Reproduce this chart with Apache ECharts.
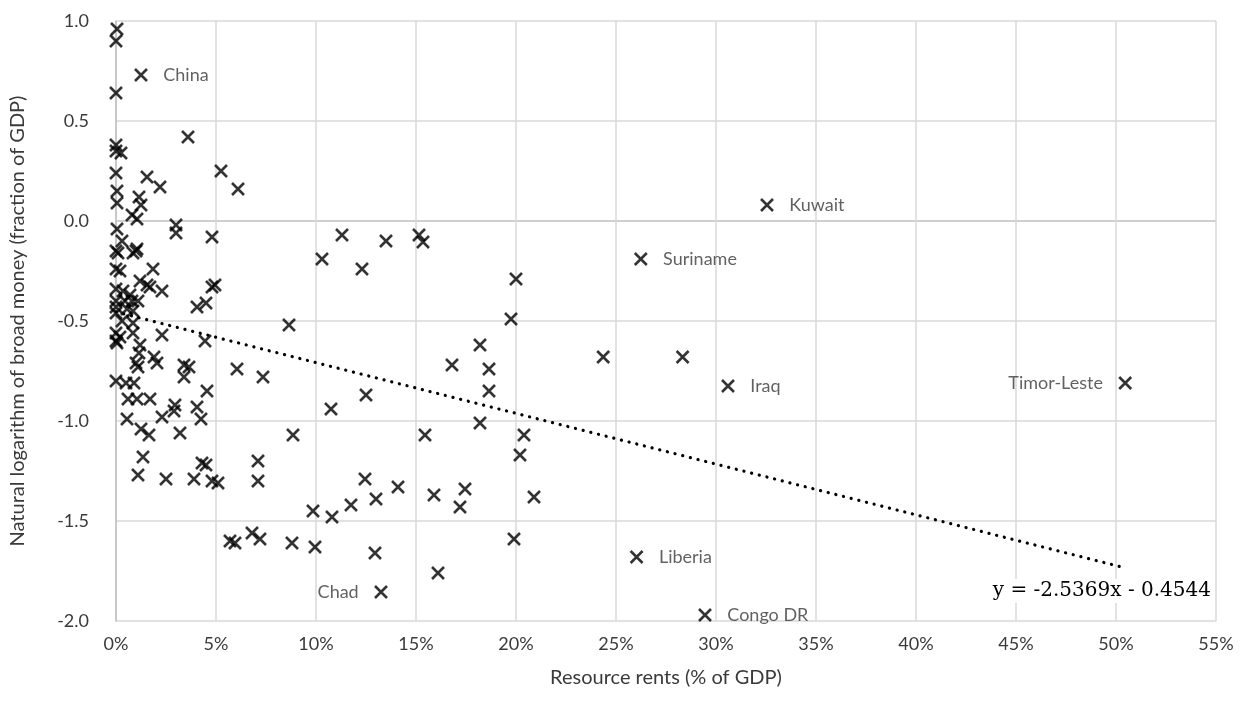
<!DOCTYPE html>
<html>
<head>
<meta charset="utf-8">
<script src="https://cdn.jsdelivr.net/npm/echarts@6/dist/echarts.min.js"></script>
<style>html,body{margin:0;padding:0;background:#fff}#c{width:1258px;height:720px}</style>
</head>
<body>
<div id="c"></div>
<script>
// Resource rents (fraction of GDP) and natural log of broad money (fraction of GDP)
const resourceRents = [
0.0005,0.0000,0.0000,0.0000,0.0000,0.0025,0.0000,0.0155,0.0220,0.0005,0.0115,0.0005,0.0125,0.0080,0.0105,0.0005,
0.0300,0.0300,0.0480,0.0360,0.0525,0.0610,0.0030,0.0105,0.0000,0.0010,0.0085,0.0100,0.0185,0.0000,0.0020,0.0120,
0.0155,0.0170,0.0230,0.0000,0.0035,0.0070,0.0480,0.0495,0.0405,0.0450,0.0000,0.0000,0.0045,0.0080,0.0110,0.0055,
0.0085,0.0000,0.0030,0.0085,0.0865,0.0000,0.0020,0.0000,0.0085,0.0230,0.0445,0.0005,0.0120,0.0115,0.0190,0.0205,
0.0100,0.0110,0.0340,0.0365,0.0340,0.0605,0.0735,0.0000,0.0050,0.0090,0.0455,0.0060,0.0105,0.0170,0.0295,0.0290,
0.0405,0.0425,0.0230,0.0055,0.0125,0.0165,0.0320,0.0885,0.0135,0.0430,0.0450,0.0110,0.0250,0.0390,0.0480,0.0510,
0.0710,0.0710,0.0570,0.0595,0.0680,0.0720,0.0880,0.0995,0.0985,0.1080,0.1175,0.1245,0.1300,0.1410,0.1590,0.1745,
0.1720,0.2090,0.1990,0.1295,0.1610,0.1075,0.1820,0.1545,0.2040,0.2020,0.1030,0.1130,0.1230,0.1350,0.1515,0.1535,
0.2000,0.1975,0.1820,0.1680,0.1865,0.1865,0.1250,0.2436,0.2833
];
const logBroadMoney = [
0.96,0.90,0.64,0.38,0.35,0.34,0.24,0.22,0.17,0.15,0.12,0.09,0.08,0.03,0.01,-0.04,
-0.02,-0.06,-0.08,0.42,0.25,0.16,-0.10,-0.14,-0.15,-0.16,-0.16,-0.15,-0.24,-0.24,-0.25,-0.30,
-0.32,-0.33,-0.35,-0.34,-0.35,-0.37,-0.33,-0.32,-0.43,-0.41,-0.40,-0.43,-0.40,-0.40,-0.40,-0.44,
-0.45,-0.46,-0.50,-0.51,-0.52,-0.56,-0.58,-0.60,-0.56,-0.57,-0.60,-0.61,-0.62,-0.66,-0.68,-0.71,
-0.71,-0.73,-0.72,-0.73,-0.78,-0.74,-0.78,-0.80,-0.81,-0.81,-0.85,-0.89,-0.89,-0.89,-0.92,-0.95,
-0.93,-0.99,-0.98,-0.99,-1.04,-1.07,-1.06,-1.07,-1.18,-1.21,-1.22,-1.27,-1.29,-1.29,-1.30,-1.31,
-1.20,-1.30,-1.60,-1.61,-1.56,-1.59,-1.61,-1.63,-1.45,-1.48,-1.42,-1.29,-1.39,-1.33,-1.37,-1.34,
-1.43,-1.38,-1.59,-1.66,-1.76,-0.94,-1.01,-1.07,-1.07,-1.17,-0.19,-0.07,-0.24,-0.10,-0.07,-0.105,
-0.29,-0.49,-0.62,-0.72,-0.74,-0.85,-0.87,-0.68,-0.68
];
// Labelled countries
const labelNames = ['China','Kuwait','Suriname','Iraq','Timor-Leste','Liberia','Congo DR','Chad'];
const labelRents = [0.0125,0.3255,0.2624,0.3060,0.5046,0.2603,0.2945,0.1325];
const labelMoney = [0.73,0.08,-0.19,-0.825,-0.81,-1.68,-1.97,-1.855];
const labelSide  = ['right','right','right','right','left','right','right','left'];
// Trendline shown on chart
const trendSlope = -2.5369;
const trendIntercept = -0.4544;
const trendText = 'y = -2.5369x - 0.4544';
const xTicks = ['0%','5%','10%','15%','20%','25%','30%','35%','40%','45%','50%','55%'];

const FONT = 'Lato, "Open Sans", "Noto Sans", sans-serif';
const TXT = '#3a3a3a';
const crossPath = 'path://M0,0L10,10M10,0L0,10';

const plain = resourceRents.map((x, i) => [x, logBroadMoney[i]]);
const named = labelNames.map((n, i) => ({
  value: [labelRents[i], labelMoney[i]],
  name: n,
  label: { show: true, position: labelSide[i], formatter: n, distance: 15,
           color: TXT, fontSize: 18, fontFamily: FONT }
}));
const allX = resourceRents.concat(labelRents);
const xMax = Math.max.apply(null, allX);
const trend = [[0, trendIntercept], [xMax, trendSlope * xMax + trendIntercept]];

const chart = echarts.init(document.getElementById('c'), null, { renderer: 'canvas' });
const yGridColors = ['#d9d9d9','#d9d9d9','#d9d9d9','#d9d9d9','#bfbfbf','#d9d9d9','#d9d9d9'];
chart.setOption({
  animation: false,
  backgroundColor: '#ffffff',
  grid: { left: 116, right: 42, top: 21, bottom: 99, containLabel: false },
  xAxis: {
    type: 'value', min: 0, max: 0.55, interval: 0.05,
    name: 'Resource rents (% of GDP)', nameLocation: 'middle', nameGap: 47,
    nameTextStyle: { color: TXT, fontSize: 20, fontFamily: FONT },
    axisLine: { show: false }, axisTick: { show: false },
    axisLabel: { color: TXT, fontSize: 18, fontFamily: FONT, margin: 14,
      formatter: v => xTicks[Math.round(v / 0.05)] },
    splitLine: { show: true, lineStyle: { color: '#d9d9d9', width: 1.5 } }
  },
  yAxis: {
    type: 'value', min: -2, max: 1, interval: 0.5,
    name: 'Natural logarithm of broad money (fraction of GDP)', nameLocation: 'middle', nameGap: 88,
    nameRotate: 90,
    nameTextStyle: { color: TXT, fontSize: 20, fontFamily: FONT },
    axisLine: { show: true, lineStyle: { color: '#bfbfbf', width: 1.5 } },
    axisTick: { show: false },
    axisLabel: { color: TXT, fontSize: 18, fontFamily: FONT, margin: 27,
      formatter: v => v.toFixed(1) },
    splitLine: { show: true, lineStyle: { color: yGridColors, width: 1.5 } }
  },
  series: [
    {
      type: 'line', data: trend, symbol: 'none', silent: true, z: 1,
      lineStyle: { color: '#000', width: 3.2, type: [0.1, 7.8], cap: 'round' }
    },
    {
      type: 'scatter', data: plain, symbol: crossPath, symbolSize: 12, z: 3,
      itemStyle: { color: 'rgba(0,0,0,0)', borderColor: '#000', borderWidth: 2.6 }
    },
    {
      type: 'scatter', data: named, symbol: crossPath, symbolSize: 12, z: 3,
      itemStyle: { color: 'rgba(0,0,0,0)', borderColor: '#000', borderWidth: 2.6 }
    }
  ],
  graphic: [{
    type: 'text', right: 43, top: 579, z: 10,
    style: { text: trendText, fill: '#000', font: '20px "DejaVu Serif", "Liberation Serif", serif',
             backgroundColor: '#fff', padding: [2, 4] }
  }]
});
</script>
</body>
</html>
